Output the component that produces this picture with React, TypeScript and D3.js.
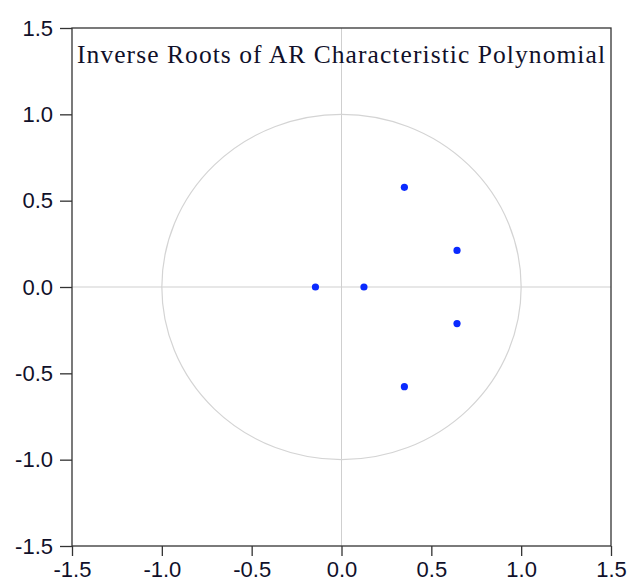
import { useEffect, useRef } from "react";
import * as d3 from "d3";

// inverse roots (real, imaginary)
const rootRe = [0.35, 0.643, 0.643, 0.35, -0.145, 0.125];
const rootIm = [0.577, 0.212, -0.212, -0.577, 0, 0];
const tickVals = [-1.5, -1.0, -0.5, 0.0, 0.5, 1.0, 1.5];
const title = "Inverse Roots of AR Characteristic Polynomial";

const W = 631;
const H = 582;
const margin = { left: 72, right: 20, top: 28, bottom: 36 };

// plain hyphen for negatives, like the original
const fmt = (v: number) => v.toFixed(1);

const App = () => {
  const svgRef = useRef<SVGSVGElement | null>(null);

  useEffect(() => {
    const svg = d3.select(svgRef.current);
    svg.selectAll("*").remove();

    const x = d3
      .scaleLinear()
      .domain([-1.5, 1.5])
      .range([margin.left, W - margin.right]);
    const y = d3
      .scaleLinear()
      .domain([-1.5, 1.5])
      .range([H - margin.bottom, margin.top]);

    const g = svg.append("g");

    // zero lines
    g.append("line")
      .attr("x1", x(-1.5))
      .attr("x2", x(1.5))
      .attr("y1", y(0))
      .attr("y2", y(0))
      .attr("stroke", "#cfcfcf")
      .attr("stroke-width", 1);
    g.append("line")
      .attr("x1", x(0))
      .attr("x2", x(0))
      .attr("y1", y(-1.5))
      .attr("y2", y(1.5))
      .attr("stroke", "#cfcfcf")
      .attr("stroke-width", 1);

    // unit circle
    g.append("ellipse")
      .attr("cx", x(0))
      .attr("cy", y(0))
      .attr("rx", x(1) - x(0))
      .attr("ry", y(0) - y(1))
      .attr("fill", "none")
      .attr("stroke", "#d4d4d4")
      .attr("stroke-width", 1.2);

    // frame
    g.append("rect")
      .attr("x", x(-1.5))
      .attr("y", y(1.5))
      .attr("width", x(1.5) - x(-1.5))
      .attr("height", y(-1.5) - y(1.5))
      .attr("fill", "none")
      .attr("stroke", "#333")
      .attr("stroke-width", 1.3);

    // axes
    const xAxis = g
      .append("g")
      .attr("transform", `translate(0,${y(-1.5)})`)
      .call(
        d3.axisBottom(x).tickValues(tickVals).tickFormat((d) => fmt(d as number)).tickSize(10).tickPadding(5)
      );
    const yAxis = g
      .append("g")
      .attr("transform", `translate(${x(-1.5)},0)`)
      .call(
        d3.axisLeft(y).tickValues(tickVals).tickFormat((d) => fmt(d as number)).tickSize(12).tickPadding(7)
      );
    [xAxis, yAxis].forEach((a) => {
      a.select(".domain").remove();
      a.selectAll("line").attr("stroke", "#333").attr("stroke-width", 1.3);
      a.selectAll("text")
        .attr("fill", "#10102a")
        .style("font-family", "Arial, 'Liberation Sans', sans-serif")
        .style("font-size", "22px");
    });

    // roots
    g.selectAll("circle.root")
      .data(rootRe.map((re, i) => [re, rootIm[i]]))
      .join("circle")
      .attr("class", "root")
      .attr("cx", (d) => x(d[0]))
      .attr("cy", (d) => y(d[1]))
      .attr("r", 3.6)
      .attr("fill", "#0a2aff");

    // title
    g.append("text")
      .attr("x", 77)
      .attr("y", 63)
      .attr("textLength", 528)
      .attr("lengthAdjust", "spacing")
      .style("font-family", "'Times New Roman', 'Liberation Serif', serif")
      .style("font-size", "25.5px")
      .attr("fill", "#10102a")
      .text(title);
  }, []);

  return (
    <svg
      ref={svgRef}
      width={W}
      height={H}
      style={{ position: "absolute", left: 0, top: 0, background: "#fff" }}
    />
  );
};

export default App;
